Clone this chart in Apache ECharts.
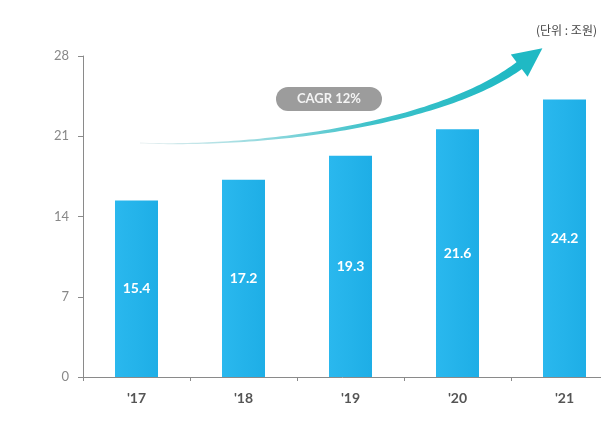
<!DOCTYPE html>
<html><head><meta charset="utf-8">
<script src="https://cdn.jsdelivr.net/npm/echarts@6/dist/echarts.min.js"></script>
<style>html,body{margin:0;padding:0;background:#fff}#c{width:601px;height:422px}</style>
</head><body><div id="c"></div>
<script>
const categories = ["'17", "'18", "'19", "'20", "'21"];
const values = [15.4, 17.2, 19.3, 21.6, 24.2];
const yTicks = { min: 0, max: 28, interval: 7 };
const unitText = "(단위 : 조원)";
const cagrText = "CAGR 12%";

function arrowShapes() {
  const P = [[140, 143], [260, 148], [440, 125], [520, 65]];
  const up = [], lo = [];
  const N = 80;
  for (let i = 0; i <= N; i++) {
    const t = i / N, s = 1 - t;
    const x = s*s*s*P[0][0] + 3*s*s*t*P[1][0] + 3*s*t*t*P[2][0] + t*t*t*P[3][0];
    const y = s*s*s*P[0][1] + 3*s*s*t*P[1][1] + 3*s*t*t*P[2][1] + t*t*t*P[3][1];
    const dx = 3*s*s*(P[1][0]-P[0][0]) + 6*s*t*(P[2][0]-P[1][0]) + 3*t*t*(P[3][0]-P[2][0]);
    const dy = 3*s*s*(P[1][1]-P[0][1]) + 6*s*t*(P[2][1]-P[1][1]) + 3*t*t*(P[3][1]-P[2][1]);
    const L = Math.hypot(dx, dy);
    const nx = -dy / L, ny = dx / L;
    const w = 0.4 + 4.0 * Math.pow(t, 1.5);
    up.push([x + nx*w, y + ny*w]);
    lo.push([x - nx*w, y - ny*w]);
  }
  const body = up.concat(lo.reverse());
  const E = P[3];
  const dx = P[3][0]-P[2][0], dy = P[3][1]-P[2][1], L = Math.hypot(dx, dy);
  const ux = dx/L, uy = dy/L, nx = -uy, ny = ux;
  const tip = [E[0] + ux*28, E[1] + uy*28];
  const b1 = [E[0] + nx*14 - ux*1, E[1] + ny*14 - uy*1];
  const b2 = [E[0] - nx*14 - ux*1, E[1] - ny*14 - uy*1];
  return { body, head: [tip, b1, b2] };
}
const ar = arrowShapes();
const grad = new echarts.graphic.LinearGradient(0, 0, 1, 0, [
  { offset: 0, color: '#e8eff0' }, { offset: 0.3, color: '#9adbe0' }, { offset: 0.6, color: '#3fc2ca' }, { offset: 1, color: '#1db8c3' }
]);

const chart = echarts.init(document.getElementById('c'), null, { renderer: 'canvas' });
chart.setOption({
  animation: false,
  grid: { left: 83, top: 56, width: 535, height: 321, outerBoundsMode: 'none', containLabel: false },
  xAxis: {
    type: 'category', data: categories,
    axisLine: { lineStyle: { color: '#8a8a8a', width: 1 } },
    axisTick: { show: true, length: 4, lineStyle: { color: '#8a8a8a' } },
    axisLabel: { color: '#555', fontSize: 14, fontWeight: 'bold', margin: 14, fontFamily: 'Lato, sans-serif' }
  },
  yAxis: {
    type: 'value', min: yTicks.min, max: yTicks.max, interval: yTicks.interval,
    axisLine: { show: true, lineStyle: { color: '#8a8a8a', width: 1 } },
    axisTick: { show: true, length: 5, lineStyle: { color: '#8a8a8a' } },
    splitLine: { show: false },
    axisLabel: { color: '#888', fontSize: 13, margin: 14, fontFamily: 'Lato, sans-serif' }
  },
  series: [{
    type: 'bar', data: values, barWidth: 43,
    itemStyle: { color: new echarts.graphic.LinearGradient(0, 0, 1, 0, [
      { offset: 0, color: '#2ab8ee' }, { offset: 1, color: '#1eaee6' }]) },
    label: { show: true, position: 'inside', color: '#fff', fontSize: 14, fontWeight: 'bold', fontFamily: 'Lato, sans-serif' }
  }],
  graphic: [
    { type: 'polygon', shape: { points: ar.body }, style: { fill: grad }, z: 10 },
    { type: 'polygon', shape: { points: ar.head }, style: { fill: '#1fb9c4' }, z: 10 },
    { type: 'rect', shape: { x: 276, y: 87, width: 106, height: 24, r: 12 }, style: { fill: '#9c9c9c' }, z: 11 },
    { type: 'text', x: 329, y: 99, z: 12,
      style: { text: cagrText, fill: '#f4f4f4', fontSize: 13, fontWeight: 'bold', fontFamily: 'Lato, sans-serif', align: 'center', verticalAlign: 'middle' } },
    { type: 'text', x: 597, y: 30, z: 12,
      style: { text: unitText, fill: '#444', fontSize: 12, fontFamily: '"Noto Sans CJK KR", sans-serif', align: 'right', verticalAlign: 'middle' } }
  ]
});
</script></body></html>
